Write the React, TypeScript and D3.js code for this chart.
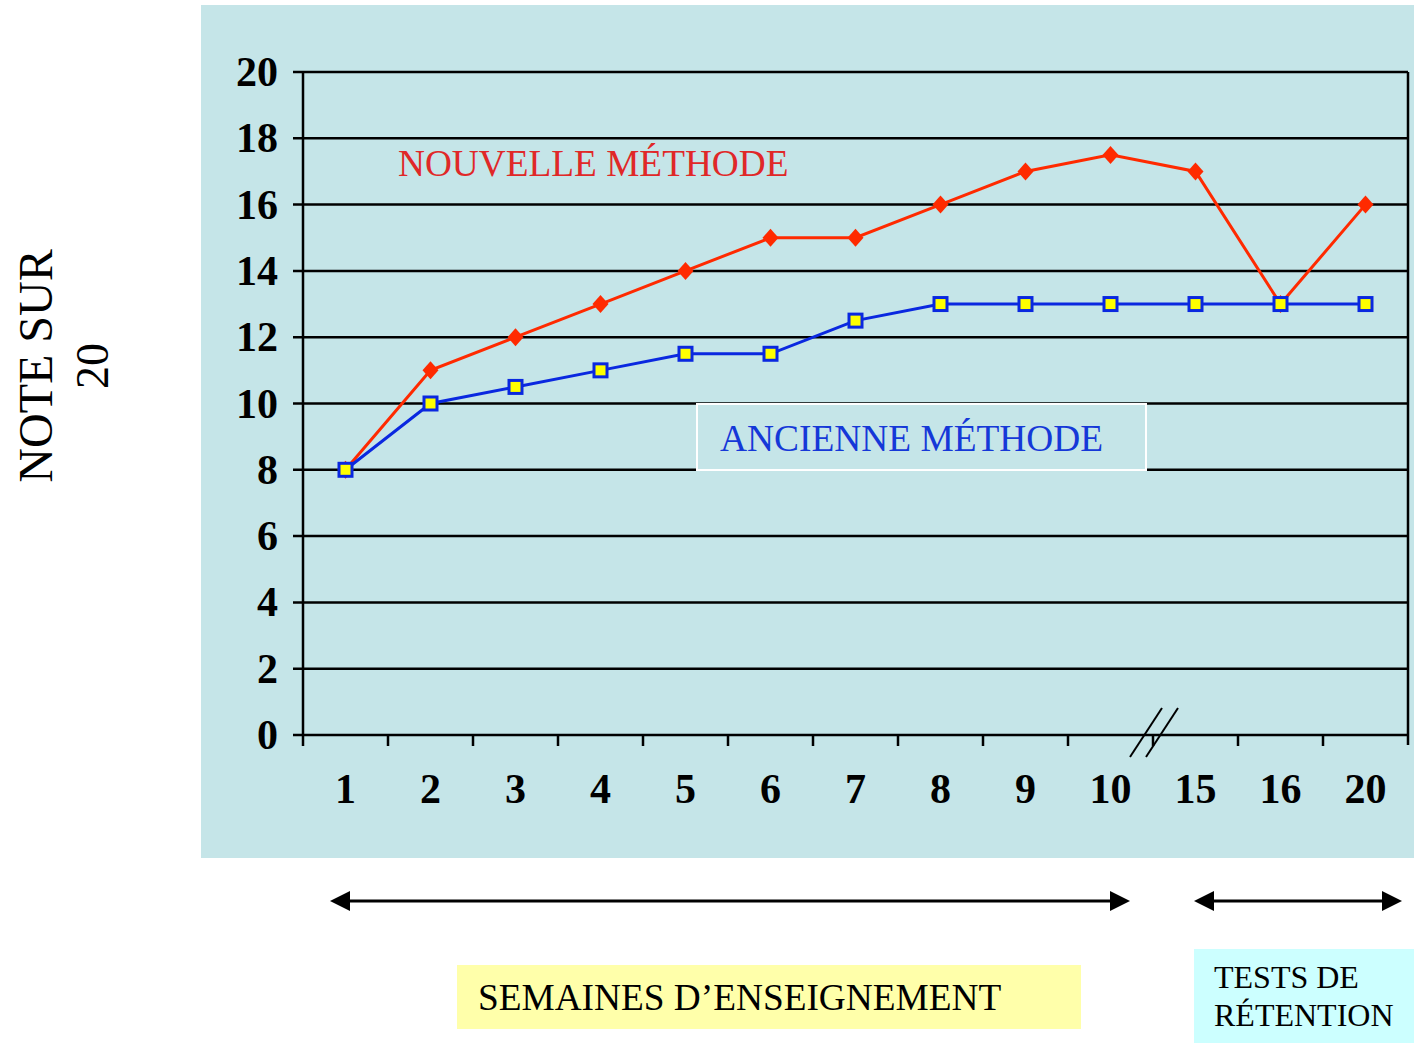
import React from "react";
import * as d3 from "d3";

const categories = ["1", "2", "3", "4", "5", "6", "7", "8", "9", "10", "15", "16", "20"];
const nouvelle = [8, 11, 12, 13, 14, 15, 15, 16, 17, 17.5, 17, 13, 16];
const ancienne = [8, 10, 10.5, 11, 11.5, 11.5, 12.5, 13, 13, 13, 13, 13, 13];
const yTicks = [0, 2, 4, 6, 8, 10, 12, 14, 16, 18, 20];

const W = 1414, H = 1043;
const left = 303, right = 1408, top = 72, bottom = 735;
const serif = "'Liberation Serif', 'Times New Roman', serif";

export default function App() {
  const x = d3.scaleBand<string>().domain(categories).range([left, right]).padding(0);
  const y = d3.scaleLinear().domain([0, 20]).range([bottom, top]);
  const cx = (i: number) => (x(categories[i]) as number) + x.bandwidth() / 2;
  const line = d3.line<number>().x((_, i) => cx(i)).y((d) => y(d));
  const bounds = [...categories.map((c) => x(c) as number), right];

  const arrow = (x1: number, x2: number, yy: number) => (
    <g>
      <line x1={x1 + 18} x2={x2 - 18} y1={yy} y2={yy} stroke="#000" strokeWidth={3} />
      <path d={`M${x1},${yy} L${x1 + 20},${yy - 10} L${x1 + 20},${yy + 10} Z`} fill="#000" />
      <path d={`M${x2},${yy} L${x2 - 20},${yy - 10} L${x2 - 20},${yy + 10} Z`} fill="#000" />
    </g>
  );

  return (
    <div style={{ position: "absolute", left: 0, top: 0 }}>
      <svg width={W} height={H} style={{ display: "block", background: "#fff" }}>
        <rect x={201} y={5} width={W - 201} height={853} fill="#c5e5e8" />
        {yTicks.map((t) => (
          <g key={t}>
            <line x1={left - 10} x2={right} y1={y(t)} y2={y(t)} stroke="#000" strokeWidth={2.5} />
            <text x={278} y={y(t) + 14} textAnchor="end" fontFamily={serif} fontWeight="bold" fontSize={42} fill="#000">
              {t}
            </text>
          </g>
        ))}
        <line x1={left} x2={left} y1={top} y2={bottom} stroke="#000" strokeWidth={2.5} />
        <line x1={right} x2={right} y1={top} y2={bottom + 10} stroke="#000" strokeWidth={2.5} />
        {bounds.slice(0, -1).map((b, i) => (
          <line key={i} x1={b} x2={b} y1={bottom} y2={bottom + 11} stroke="#000" strokeWidth={2.5} />
        ))}
        {categories.map((c, i) => (
          <text key={c} x={cx(i)} y={803} textAnchor="middle" fontFamily={serif} fontWeight="bold" fontSize={42} fill="#000">
            {c}
          </text>
        ))}
        <line x1={1130} y1={757} x2={1162} y2={708} stroke="#000" strokeWidth={2} />
        <line x1={1146} y1={757} x2={1178} y2={708} stroke="#000" strokeWidth={2} />
        <rect x={697} y={404} width={449} height={66} fill="#c5e5e8" stroke="#fff" strokeWidth={2} />
        <text x={720} y={451} fontFamily={serif} fontSize={37.4} fill="#1538d8">ANCIENNE MÉTHODE</text>
        <text x={398} y={176} fontFamily={serif} fontSize={37.3} fill="#e02828">NOUVELLE MÉTHODE</text>
        <path d={line(nouvelle) || ""} fill="none" stroke="#ff2a00" strokeWidth={3} />
        {nouvelle.map((v, i) => (
          <path key={i} d={`M${cx(i)},${y(v) - 9} L${cx(i) + 8},${y(v)} L${cx(i)},${y(v) + 9} L${cx(i) - 8},${y(v)} Z`} fill="#ff2a00" />
        ))}
        <path d={line(ancienne) || ""} fill="none" stroke="#0a28e0" strokeWidth={3} />
        {ancienne.map((v, i) => (
          <rect key={i} x={cx(i) - 6.5} y={y(v) - 6.5} width={13} height={13} fill="#ffff00" stroke="#0a28e0" strokeWidth={3} />
        ))}
        <text transform="translate(52,366) rotate(-90)" textAnchor="middle" fontFamily={serif} fontSize={48} fill="#000">NOTE SUR</text>
        <text transform="translate(108,366) rotate(-90)" textAnchor="middle" fontFamily={serif} fontSize={46} fill="#000">20</text>
        {arrow(330, 1130, 901)}
        {arrow(1194, 1402, 901)}
        <rect x={457} y={965} width={624} height={64} fill="#ffffaa" />
        <text x={478} y={1010} fontFamily={serif} fontSize={37.3} fill="#000">SEMAINES D’ENSEIGNEMENT</text>
        <rect x={1194} y={949} width={220} height={94} fill="#ccffff" />
        <text x={1214} y={988} fontFamily={serif} fontSize={32} fill="#000">TESTS DE</text>
        <text x={1214} y={1026} fontFamily={serif} fontSize={32} fill="#000">RÉTENTION</text>
      </svg>
    </div>
  );
}
